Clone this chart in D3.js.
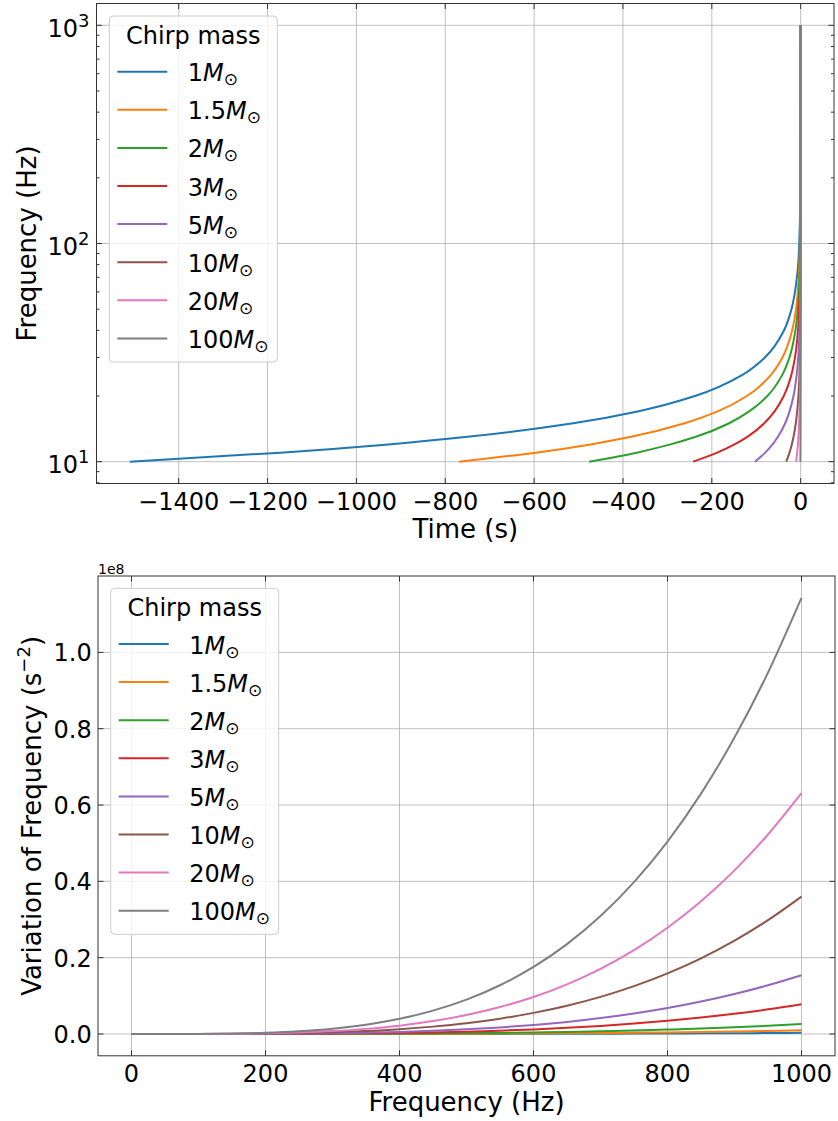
<!DOCTYPE html>
<html>
<head>
<meta charset="utf-8">
<script src="https://cdn.jsdelivr.net/npm/d3@7"></script>
<style>
  body { margin: 0; background: #ffffff; }
  svg text { font-family: "DejaVu Sans", sans-serif; fill: #000; }
</style>
</head>
<body>
<svg id="fig" width="838" height="1121"></svg>
<script>
// ---- series shared by both panels ----
const massLabels = ["1", "1.5", "2", "3", "5", "10", "20", "100"];
const massColors = ["#1f77b4", "#ff7f0e", "#2ca02c", "#d62728", "#9467bd", "#8c564b", "#e377c2", "#7f7f7f"];
const legendTitle = "Chirp mass";

// ---- panel 1: frequency (Hz) reached at a given time before merger (s) ----
const freqSamples = [10, 11, 12, 13, 15, 17, 20, 25, 30, 40, 50, 70, 100, 200, 1000];
const time1   = [-1510, -1171, -928, -750, -512, -367, -238, -131, -80.6, -37.4, -20.7, -8.4, -3.25, -0.51, 0];
const time1p5 = [-769, -596, -473, -382, -261, -187, -121, -66.8, -41.1, -19.1, -10.5, -4.28, -1.65, -0.26, 0];
const time2   = [-476, -369, -293, -236, -161, -116, -75, -41.4, -25.4, -11.8, -6.5, -2.65, -1.02, -0.16, 0];
const time3   = [-242, -188, -149, -120, -82, -58.8, -38.1, -21.0, -12.9, -6.0, -3.3, -1.35, -0.52, -0.08, 0];
const time5   = [-103, -79.9, -63.3, -51.2, -34.9, -25.0, -16.2, -9.0, -5.5, -2.55, -1.41, -0.57, -0.22, -0.03, 0];
const time10  = [-32.5, -25.2, -20.0, -16.1, -11.0, -7.9, -5.1, -2.8, -1.74, -0.81, -0.44, -0.18, -0.07, -0.01, 0];
const time20  = [-10.2, -7.9, -6.3, -5.1, -3.5, -2.5, -1.6, -0.89, -0.54, -0.25, -0.14, -0.06, -0.02, 0, 0];
const time100 = [-0.7, -0.54, -0.43, -0.35, -0.24, -0.17, -0.11, -0.06, -0.04, -0.02, -0.01, 0, 0, 0, 0];
const timeSeries = [time1, time1p5, time2, time3, time5, time10, time20, time100];
const timeTicks = [-1400, -1200, -1000, -800, -600, -400, -200, 0];
const freqLogTicks = [10, 100, 1000];

// ---- panel 2: frequency variation (units of 1e8 s^-2) against frequency (Hz) ----
const rateFreq = [0, 50, 100, 150, 200, 250, 300, 350, 400, 450, 500, 550, 600, 650, 700, 750, 800, 850, 900, 950, 1000];
const rate1   = [0, 0, 0, 0, 0, 0, 0, 0.0001, 0.0001, 0.0002, 0.0002, 0.0003, 0.0005, 0.0006, 0.0008, 0.0010, 0.0013, 0.0017, 0.0020, 0.0025, 0.003];
const rate1p5 = [0, 0, 0, 0, 0, 0.0001, 0.0001, 0.0002, 0.0003, 0.0005, 0.0007, 0.0011, 0.0015, 0.0020, 0.0026, 0.0033, 0.0042, 0.0052, 0.0065, 0.0079, 0.0095];
const rate2   = [0, 0, 0, 0, 0.0001, 0.0002, 0.0003, 0.0006, 0.0009, 0.0014, 0.0020, 0.0029, 0.0040, 0.0054, 0.0070, 0.0091, 0.0115, 0.0143, 0.0177, 0.0215, 0.026];
const rate3   = [0, 0, 0, 0.0001, 0.0002, 0.0005, 0.0009, 0.0017, 0.0027, 0.0042, 0.0061, 0.0087, 0.0120, 0.0161, 0.0211, 0.0272, 0.0344, 0.0430, 0.0530, 0.0646, 0.078];
const rate5   = [0, 0, 0, 0.0001, 0.0004, 0.0010, 0.0019, 0.0033, 0.0053, 0.0082, 0.0121, 0.0172, 0.0237, 0.0317, 0.0416, 0.0536, 0.0679, 0.0849, 0.1047, 0.1276, 0.154];
const rate10  = [0, 0, 0.0001, 0.0003, 0.0010, 0.0022, 0.0044, 0.0077, 0.0125, 0.0193, 0.0283, 0.0402, 0.0553, 0.0742, 0.0973, 0.1254, 0.1588, 0.1984, 0.2447, 0.2983, 0.360];
const rate20  = [0, 0, 0.0001, 0.0006, 0.0017, 0.0039, 0.0076, 0.0134, 0.0219, 0.0338, 0.0497, 0.0705, 0.0970, 0.1301, 0.1706, 0.2197, 0.2783, 0.3477, 0.4288, 0.5228, 0.631];
const rate100 = [0, 0, 0.0002, 0.0011, 0.0031, 0.0071, 0.0138, 0.0243, 0.0397, 0.0612, 0.0900, 0.1277, 0.1757, 0.2356, 0.3091, 0.3980, 0.5041, 0.6299, 0.7768, 0.9470, 1.143];
const rateSeries = [rate1, rate1p5, rate2, rate3, rate5, rate10, rate20, rate100];
const rateFreqTicks = [0, 200, 400, 600, 800, 1000];
const rateTicks = [0.0, 0.2, 0.4, 0.6, 0.8, 1.0];
const rateOffsetLabel = "1e8";

const svg = d3.select("#fig");
const SPINE = "#333333";
const GRID = "#b0b0b0";
const MAJOR = 5.5, MINOR = 3;
const TICK_FS = 24, LABEL_FS = 26, LEGEND_FS = 24;

function frame(g, b) {
  g.append("rect")
    .attr("x", b.left).attr("y", b.top)
    .attr("width", b.right - b.left).attr("height", b.bottom - b.top)
    .attr("fill", "none").attr("stroke", SPINE).attr("stroke-width", 1);
}

function xTicksBoth(g, b, x, values) {
  values.forEach(v => {
    const px = x(v);
    g.append("line").attr("x1", px).attr("x2", px).attr("y1", b.bottom).attr("y2", b.bottom - MAJOR)
      .attr("stroke", SPINE).attr("stroke-width", 1);
    g.append("line").attr("x1", px).attr("x2", px).attr("y1", b.top).attr("y2", b.top + MAJOR)
      .attr("stroke", SPINE).attr("stroke-width", 1);
  });
}

function yTicksBoth(g, b, y, values, len) {
  values.forEach(v => {
    const py = y(v);
    g.append("line").attr("x1", b.left).attr("x2", b.left + len).attr("y1", py).attr("y2", py)
      .attr("stroke", SPINE).attr("stroke-width", 1);
    g.append("line").attr("x1", b.right).attr("x2", b.right - len).attr("y1", py).attr("y2", py)
      .attr("stroke", SPINE).attr("stroke-width", 1);
  });
}

function legend(g, x0, y0) {
  const boxW = 168, boxH = 346;
  g.append("rect")
    .attr("x", x0).attr("y", y0).attr("width", boxW).attr("height", boxH)
    .attr("rx", 4).attr("ry", 4)
    .attr("fill", "#ffffff").attr("fill-opacity", 0.8)
    .attr("stroke", "#cccccc").attr("stroke-width", 1);
  g.append("text")
    .attr("x", x0 + boxW / 2).attr("y", y0 + 28)
    .attr("text-anchor", "middle")
    .style("font-size", LEGEND_FS + "px")
    .text(legendTitle);
  massLabels.forEach((m, i) => {
    const cy = y0 + 55.7 + i * 38.1;
    g.append("line")
      .attr("x1", x0 + 8).attr("x2", x0 + 58).attr("y1", cy).attr("y2", cy)
      .attr("stroke", massColors[i]).attr("stroke-width", 2);
    const t = g.append("text")
      .attr("x", x0 + 78.5).attr("y", cy + 9.5)
      .style("font-size", LEGEND_FS + "px");
    t.append("tspan").text(m);
    t.append("tspan").style("font-style", "italic").text("M");
    t.append("tspan").attr("dy", 4).style("font-size", "17px").text("\u2299");
  });
}

// ================= panel 1 =================
{
  const b = { left: 96.5, right: 834, top: 3.5, bottom: 483.5 };
  const g = svg.append("g");
  const x = d3.scaleLinear().domain([-1585, 75]).range([b.left, b.right]);
  const y = d3.scaleLog().domain([Math.pow(10, 0.9), Math.pow(10, 3.1)]).range([b.bottom, b.top]);

  // grid
  timeTicks.forEach(v => g.append("line")
    .attr("x1", x(v)).attr("x2", x(v)).attr("y1", b.top).attr("y2", b.bottom)
    .attr("stroke", GRID).attr("stroke-width", 0.8));
  freqLogTicks.forEach(v => g.append("line")
    .attr("x1", b.left).attr("x2", b.right).attr("y1", y(v)).attr("y2", y(v))
    .attr("stroke", GRID).attr("stroke-width", 0.8));

  // curves
  const clipId = "clipTop";
  svg.append("clipPath").attr("id", clipId).append("rect")
    .attr("x", b.left).attr("y", b.top).attr("width", b.right - b.left).attr("height", b.bottom - b.top);
  const line = d3.line().x(d => x(d[0])).y(d => y(d[1])).curve(d3.curveMonotoneY);
  const lines = g.append("g").attr("clip-path", `url(#${clipId})`);
  timeSeries.forEach((ts, i) => {
    const pts = ts.map((t, k) => [t, freqSamples[k]]);
    lines.append("path").attr("d", line(pts))
      .attr("fill", "none").attr("stroke", massColors[i]).attr("stroke-width", 2)
      .attr("stroke-linejoin", "round");
  });

  // ticks
  xTicksBoth(g, b, x, timeTicks);
  yTicksBoth(g, b, y, freqLogTicks, MAJOR);
  const minor = [];
  [1, 10, 100, 1000].forEach(d => { for (let k = 2; k <= 9; k++) minor.push(k * d); });
  const [lo, hi] = y.domain();
  yTicksBoth(g, b, y, minor.filter(v => v > lo && v < hi), MINOR);

  frame(g, b);

  // tick labels
  timeTicks.forEach(v => g.append("text")
    .attr("x", x(v)).attr("y", b.bottom + 26)
    .attr("text-anchor", "middle").style("font-size", TICK_FS + "px")
    .text(d3.format("d")(v).replace("-", "\u2212")));
  freqLogTicks.forEach(v => {
    const t = g.append("text")
      .attr("x", b.left - 7).attr("y", y(v) + 11.4)
      .attr("text-anchor", "end").style("font-size", TICK_FS + "px");
    t.append("tspan").text("10");
    t.append("tspan").attr("dy", -10).style("font-size", "18px").text(Math.round(Math.log10(v)));
  });

  // axis labels
  g.append("text").attr("x", (b.left + b.right) / 2).attr("y", 538.3)
    .attr("text-anchor", "middle").style("font-size", LABEL_FS + "px").text("Time (s)");
  g.append("text").attr("transform", `translate(35.6,${(b.top + b.bottom) / 2}) rotate(-90)`)
    .attr("text-anchor", "middle").style("font-size", LABEL_FS + "px").text("Frequency (Hz)");

  legend(g, b.left + 12.8, b.top + 12.5);
}

// ================= panel 2 =================
{
  const b = { left: 98, right: 835, top: 576, bottom: 1055.8 };
  const g = svg.append("g");
  const x = d3.scaleLinear().domain([-50, 1050]).range([b.left, b.right]);
  const y = d3.scaleLinear().domain([-0.05715, 1.20015]).range([b.bottom, b.top]);

  rateFreqTicks.forEach(v => g.append("line")
    .attr("x1", x(v)).attr("x2", x(v)).attr("y1", b.top).attr("y2", b.bottom)
    .attr("stroke", GRID).attr("stroke-width", 0.8));
  rateTicks.forEach(v => g.append("line")
    .attr("x1", b.left).attr("x2", b.right).attr("y1", y(v)).attr("y2", y(v))
    .attr("stroke", GRID).attr("stroke-width", 0.8));

  const clipId = "clipBottom";
  svg.append("clipPath").attr("id", clipId).append("rect")
    .attr("x", b.left).attr("y", b.top).attr("width", b.right - b.left).attr("height", b.bottom - b.top);
  const line = d3.line().x(d => x(d[0])).y(d => y(d[1])).curve(d3.curveMonotoneX);
  const lines = g.append("g").attr("clip-path", `url(#${clipId})`);
  rateSeries.forEach((rs, i) => {
    const pts = rs.map((r, k) => [rateFreq[k], r]);
    lines.append("path").attr("d", line(pts))
      .attr("fill", "none").attr("stroke", massColors[i]).attr("stroke-width", 2)
      .attr("stroke-linejoin", "round");
  });

  xTicksBoth(g, b, x, rateFreqTicks);
  yTicksBoth(g, b, y, rateTicks, MAJOR);
  frame(g, b);

  rateFreqTicks.forEach(v => g.append("text")
    .attr("x", x(v)).attr("y", b.bottom + 26)
    .attr("text-anchor", "middle").style("font-size", TICK_FS + "px")
    .text(d3.format("d")(v)));
  rateTicks.forEach(v => g.append("text")
    .attr("x", b.left - 6.3).attr("y", y(v) + 9)
    .attr("text-anchor", "end").style("font-size", TICK_FS + "px")
    .text(d3.format(".1f")(v)));

  g.append("text").attr("x", b.left).attr("y", b.top - 2.5)
    .style("font-size", "14px").text(rateOffsetLabel);

  g.append("text").attr("x", (b.left + b.right) / 2).attr("y", 1110.7)
    .attr("text-anchor", "middle").style("font-size", LABEL_FS + "px").text("Frequency (Hz)");
  const yl = g.append("text").attr("transform", `translate(40.6,${(b.top + b.bottom) / 2}) rotate(-90)`)
    .attr("text-anchor", "middle").style("font-size", LABEL_FS + "px");
  yl.append("tspan").text("Variation of Frequency (s");
  yl.append("tspan").attr("dy", -11).style("font-size", "18px").text("\u22122");
  yl.append("tspan").attr("dy", 11).text(")");

  legend(g, b.left + 12.7, b.top + 12.3);
}
</script>
</body>
</html>
